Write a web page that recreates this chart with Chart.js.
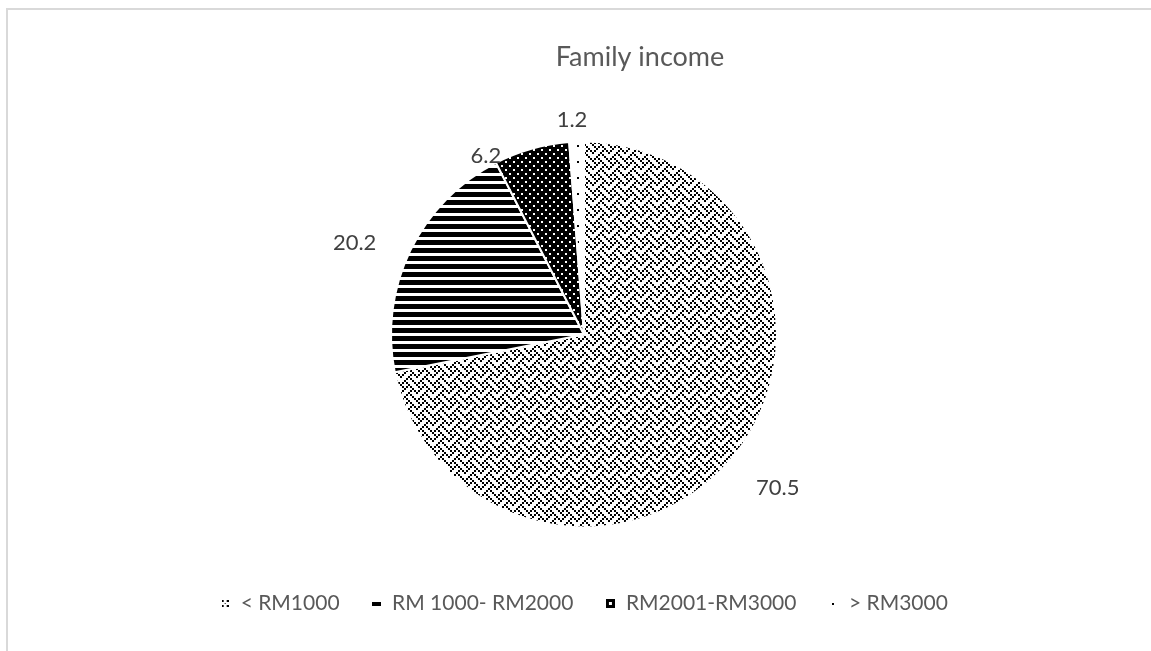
<!DOCTYPE html>
<html>
<head>
<meta charset="utf-8">
<script src="https://cdn.jsdelivr.net/npm/chart.js@4.4.1/dist/chart.umd.min.js"></script>
<style>
  html, body { margin: 0; padding: 0; background: #fff; }
  #wrap { position: relative; width: 1151px; height: 651px; overflow: hidden; }
  #frame { position: absolute; left: 6px; top: 8px; width: 1300px; height: 800px;
           border-top: 2px solid #d9d9d9; border-left: 2px solid #d9d9d9; }
  canvas { position: absolute; left: 0; top: 0; }
</style>
</head>
<body>
<div id="wrap"><div id="frame"></div><canvas id="chart" width="1151" height="651"></canvas></div>
<script>
const chartTitle = 'Family income';
const categories = ['< RM1000', 'RM 1000- RM2000', 'RM2001-RM3000', '> RM3000'];
const shares = [70.5, 20.2, 6.2, 1.2];

// Excel-style black & white pattern fills (8x8 bitmaps drawn at 2x).
function tile(w, h, bg, fg, cells) {
  const c = document.createElement('canvas');
  c.width = w; c.height = h;
  const g = c.getContext('2d');
  g.fillStyle = bg; g.fillRect(0, 0, w, h);
  g.fillStyle = fg;
  for (const [x, y, cw, ch] of cells) g.fillRect(x, y, cw, ch);
  return c;
}

// "weave" bitmap, one byte per row, left pixel = high bit
const weaveRows = [0x88, 0x54, 0x22, 0x45, 0x88, 0x14, 0x22, 0x51];
const weaveCells = [];
weaveRows.forEach((bits, y) => {
  for (let x = 0; x < 8; x++) if (bits & (0x80 >> x)) weaveCells.push([x * 2, y * 2, 2, 2]);
});
const weaveTile = tile(16, 16, '#fff', '#000', weaveCells);
const stripeTile = tile(8, 8, '#fff', '#000', [[0, 0, 8, 5]]);
const darkDotTile = tile(8, 8, '#000', '#fff', [[1, 1, 2, 2], [5, 5, 2, 2]]);
const lightDotTile = tile(16, 16, '#fff', '#000', [[1, 1, 2, 2], [9, 9, 2, 2]]);

const ctx = document.getElementById('chart').getContext('2d');
const fills = [weaveTile, stripeTile, darkDotTile, lightDotTile].map((t) => ctx.createPattern(t, 'repeat'));

// legend markers: Excel shrinks each pattern into a tiny swatch
const markers = [
  tile(7, 7, '#fff', '#000', [[0, 0, 2, 2], [5, 0, 2, 2], [3, 3, 1, 1], [0, 5, 2, 2], [5, 5, 2, 2]]),
  tile(9, 4, '#000', '#000', []),
  tile(9, 9, '#000', '#fff', [[3, 3, 3, 3]]),
  tile(2, 2, '#000', '#000', []),
];

const titlePlugin = {
  id: 'excelTitle',
  afterDraw(chart, args, opts) {
    const c = chart.ctx;
    c.save();
    c.font = opts.font;
    c.fillStyle = opts.color;
    c.textAlign = 'center';
    c.textBaseline = 'middle';
    c.fillText(chartTitle, opts.x, opts.y);
    c.restore();
  },
};

const sliceLabels = {
  id: 'sliceLabels',
  afterDatasetsDraw(chart, args, opts) {
    const c = chart.ctx;
    const arcs = chart.getDatasetMeta(0).data;
    c.save();
    c.font = opts.font;
    c.fillStyle = opts.color;
    c.textAlign = 'center';
    c.textBaseline = 'middle';
    arcs.forEach((arc, i) => {
      const { x, y, startAngle, endAngle, outerRadius } =
        arc.getProps(['x', 'y', 'startAngle', 'endAngle', 'outerRadius'], true);
      const a = (startAngle + endAngle) / 2 + (opts.shift[i] * Math.PI) / 180;
      const d = outerRadius + opts.gap[i];
      c.fillText(String(shares[i]), x + Math.cos(a) * d, y + Math.sin(a) * d);
    });
    c.restore();
  },
};

new Chart(ctx, {
  type: 'pie',
  data: {
    labels: categories,
    datasets: [{
      data: shares,
      backgroundColor: fills,
      borderColor: '#fff',
      borderWidth: 2,
      radius: 193,
    }],
  },
  plugins: [titlePlugin, sliceLabels],
  options: {
    responsive: false,
    animation: false,
    layout: { padding: { top: 108, bottom: 27, left: 17, right: 0 } },
    plugins: {
      title: { display: false },
      tooltip: { enabled: false },
      legend: {
        position: 'bottom',
        labels: {
          usePointStyle: true,
          boxWidth: 10,
          boxHeight: 10,
          padding: 32,
          color: '#595959',
          font: { family: 'Lato', size: 21 },
          generateLabels: () => categories.map((text, i) => ({
            text, index: i, hidden: false, pointStyle: markers[i],
            fillStyle: '#000', strokeStyle: '#000', lineWidth: 0, fontColor: '#595959',
          })),
        },
      },
      excelTitle: { x: 640, y: 57, font: '27px Lato', color: '#595959' },
      sliceLabels: { font: '22px Lato', color: '#404040', gap: [54, 54, 11, 22], shift: [-1, -4, -13, -1] },
    },
  },
});
</script>
</body>
</html>
